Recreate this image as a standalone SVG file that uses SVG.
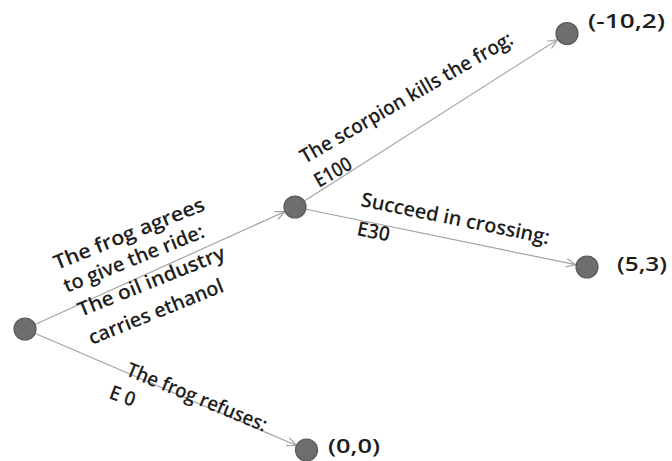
<svg xmlns="http://www.w3.org/2000/svg" width="672" height="461" viewBox="0 0 672 461">
  <style>
    .edge { stroke: #a3a3a3; stroke-width: 1.2; fill: none; marker-end: url(#arr); }
    .node { fill: #6e6e6e; stroke: #595959; stroke-width: 1.2; }
    .t { font-family: "Open Sans", "Liberation Sans", sans-serif; font-size: 20px; font-weight: 600; fill: #1e1e1e; }
  </style>
  <defs>
    <marker id="arr" markerUnits="userSpaceOnUse" viewBox="-11 -6 12 12" refX="0" refY="0" markerWidth="12" markerHeight="12" orient="auto">
      <path d="M -9.5 -4.2 L 0 0 L -9.5 4.2" fill="none" stroke="#a3a3a3" stroke-width="1.2"/>
    </marker>
  </defs>
  <rect width="672" height="461" fill="#ffffff"/>
  <g id="connectors">
    <g id="edge-root-mid">
      <line class="edge" x1="25" y1="329" x2="285" y2="211.5"/>
      <text class="t" transform="translate(57,270) rotate(-22)" textLength="161" lengthAdjust="spacingAndGlyphs">The frog agrees</text>
      <text class="t" transform="translate(66.7,293) rotate(-22)" textLength="150" lengthAdjust="spacingAndGlyphs">to give the ride:</text>
      <text class="t" transform="translate(81,317) rotate(-22)" textLength="157" lengthAdjust="spacingAndGlyphs">The oil industry</text>
      <text class="t" transform="translate(91.7,345) rotate(-22)" textLength="144" lengthAdjust="spacingAndGlyphs">carries ethanol</text>
    </g>
    <g id="edge-mid-top">
      <line class="edge" x1="295" y1="207" x2="557.3" y2="39.7"/>
      <text class="t" transform="translate(305,164) rotate(-30)" textLength="242" lengthAdjust="spacingAndGlyphs">The scorpion kills the frog:</text>
      <text class="t" transform="translate(319,188) rotate(-30)" textLength="40" lengthAdjust="spacingAndGlyphs">E100</text>
    </g>
    <g id="edge-mid-right">
      <line class="edge" x1="295" y1="207" x2="575.7" y2="264.7"/>
      <text class="t" transform="translate(360,206) rotate(11.5)" textLength="192" lengthAdjust="spacingAndGlyphs">Succeed in crossing:</text>
      <text class="t" transform="translate(356,235) rotate(11.5)" textLength="33" lengthAdjust="spacingAndGlyphs">E30</text>
    </g>
    <g id="edge-root-bottom">
      <line class="edge" x1="25" y1="329" x2="296.5" y2="445.5"/>
      <text class="t" transform="translate(125,375) rotate(22.3)" textLength="150" lengthAdjust="spacingAndGlyphs">The frog refuses:</text>
      <text class="t" transform="translate(108,398) rotate(20)" textLength="26" lengthAdjust="spacingAndGlyphs">E 0</text>
    </g>
  </g>
  <g id="node-root"><circle class="node" cx="25" cy="329" r="11"/></g>
  <g id="node-mid"><circle class="node" cx="295" cy="207" r="11"/></g>
  <g id="node-top">
    <circle class="node" cx="567" cy="33.5" r="11"/>
    <text class="t" x="588" y="28" textLength="77" lengthAdjust="spacingAndGlyphs">(-10,2)</text>
  </g>
  <g id="node-right">
    <circle class="node" cx="587" cy="267" r="11"/>
    <text class="t" x="617" y="271" textLength="50" lengthAdjust="spacingAndGlyphs">(5,3)</text>
  </g>
  <g id="node-bottom">
    <circle class="node" cx="306.5" cy="450" r="11"/>
    <text class="t" x="328" y="453" textLength="52" lengthAdjust="spacingAndGlyphs">(0,0)</text>
  </g>
</svg>
